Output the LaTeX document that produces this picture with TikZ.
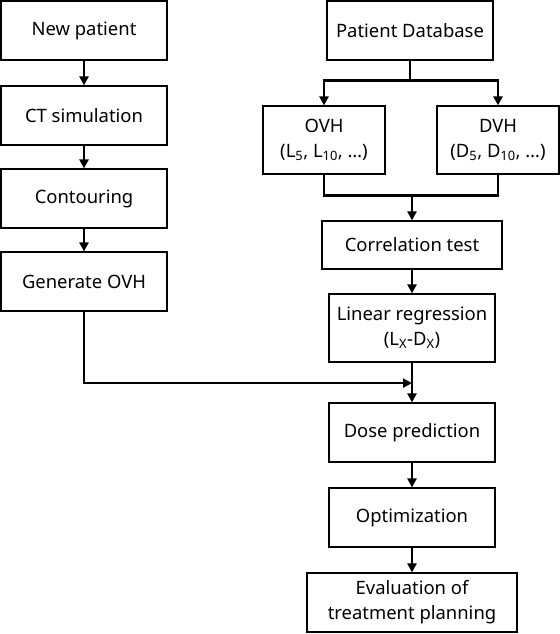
\documentclass[tikz,border=0pt]{standalone}
\usepackage{fontspec}
\setmainfont{Noto Sans}
\usetikzlibrary{positioning, arrows.meta}

\begin{document}
\begin{tikzpicture}[x=1bp, y=-1bp, >={Triangle[length=9bp,width=9bp]}, on grid,
					box/.style={draw, line width=1.2bp, minimum width=166bp, minimum height=59bp,
					align=center, inner sep=0pt, font=\fontsize{18.5}{25}\selectfont},
					flow/.style={->, line width=2.7bp}, wire/.style={line width=2.7bp} ]
					\useasboundingbox (0,0) rectangle (560,634);
					
					% coluna esquerda
					\node[box]                    (np)   at (84,30.5)      {New patient};
					\node[box]                    (ct)   [below=85bp of np]   {CT simulation};
					\node[box]                    (cont) [below=83bp of ct]   {Contouring};
					\node[box]                    (gen)  [below=83bp of cont] {Generate OVH};
					
					% coluna direita
					\node[box]                    (db)   at (410,30.5)     {Patient Database};
					\node[box, minimum width=122bp, minimum height=68bp] (ovh) at (324,140)
					      {OVH\\(L\textsubscript{5}, L\textsubscript{10}, \dots)};
					\node[box, minimum width=122bp, minimum height=68bp] (dvh) at (498,140)
					      {DVH\\(D\textsubscript{5}, D\textsubscript{10}, \dots)};
					\node[box, minimum width=180bp, minimum height=48bp] (corr) at (412,245) {Correlation test};
					\node[box, minimum height=68bp] (lin)  [below=83bp of corr]  {Linear regression\\(L\textsubscript{X}-D\textsubscript{X})};
					\node[box]                    (dose) [below=104.5bp of lin] {Dose prediction};
					\node[box]                    (opt)  [below=85bp of dose]   {Optimization};
					\node[box, minimum width=210bp] (eval) [below=85bp of opt] {Evaluation of\\treatment planning};
					
					\coordinate[below=20bp of db.south]    (split);
					\coordinate[above=25bp of corr.north]  (merge);
					\coordinate[below=20.5bp of lin.south] (join);
					
					%Ligações:
					\draw[flow] (np) -- (ct);
					\draw[flow] (ct) -- (cont);
					\draw[flow] (cont) -- (gen);
					\draw[wire] (db) -- (split);
					\draw[flow] (split) -| (ovh);
					\draw[flow] (split) -| (dvh);
					\draw[wire] (ovh) |- (merge) -| (dvh);
					\draw[flow] (merge) -- (corr);
					\draw[flow] (corr) -- (lin);
					\draw[flow] (lin) -- (dose);
					\draw[flow] (gen) |- (join);
					\draw[flow] (dose) -- (opt);
					\draw[flow] (opt) -- (eval);
				\end{tikzpicture}
\end{document}
